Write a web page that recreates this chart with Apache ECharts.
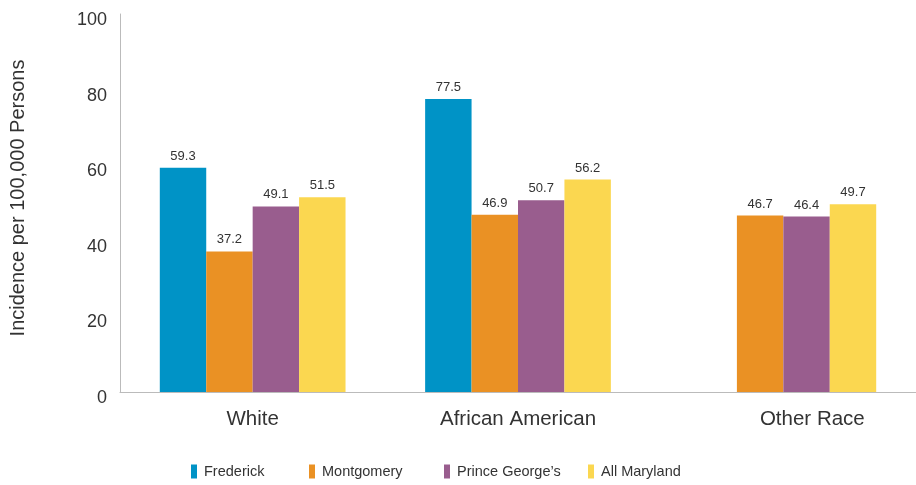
<!DOCTYPE html>
<html><head><meta charset="utf-8">
<script src="https://cdn.jsdelivr.net/npm/echarts@6/dist/echarts.min.js"></script>
<style>html,body{margin:0;padding:0;background:#fff}#c{width:916px;height:485px}</style>
</head><body><div id="c"></div>
<script>
const categories = ['White', 'African American', 'Other Race'];
const frederick = [59.3, 77.5, null];
const montgomery = [37.2, 46.9, 46.7];
const princeGeorges = [49.1, 50.7, 46.4];
const allMaryland = [51.5, 56.2, 49.7];
const seriesNames = ['Frederick', 'Montgomery', 'Prince George\u2019s', 'All Maryland'];
const colors = ['#0093c6', '#ea9124', '#995d8e', '#fbd750'];
const legendLeft = [186, 304, 439, 583];

const font = 'Liberation Sans, Arial, sans-serif';
const chart = echarts.init(document.getElementById('c'));
const vals = [frederick, montgomery, princeGeorges, allMaryland];
chart.setOption({
  animation: false,
  textStyle: { fontFamily: font },
  grid: { left: 120, top: 14, width: 802, bottom: 93, containLabel: false },
  legend: seriesNames.map((n, i) => ({
    data: [n], left: legendLeft[i], top: 459, itemWidth: 6, itemHeight: 14, icon: 'rect', itemGap: 0,
    textStyle: { fontSize: 14.5, color: '#333', fontFamily: font, padding: [0, 0, 0, 2] }
  })),
  xAxis: {
    type: 'category',
    data: categories.map((c, i) => i === 2 ? { value: c, textStyle: { padding: [0, 0, 0, 58] } } : c),
    axisLine: { lineStyle: { color: '#bbb', width: 1 } },
    axisTick: { show: false },
    axisLabel: { fontSize: 20.5, color: '#333', margin: 17, fontFamily: font }
  },
  yAxis: {
    type: 'value', min: 0, max: 100, interval: 20,
    name: 'Incidence per 100,000 Persons', nameLocation: 'middle', nameGap: 92,
    nameTextStyle: { fontSize: 20, color: '#333', fontFamily: font, padding: [0, 0, 0, 10] },
    axisLine: { show: true, lineStyle: { color: '#bbb', width: 1 } },
    axisTick: { show: false },
    splitLine: { show: false },
    axisLabel: { fontSize: 18, color: '#333', margin: 13, verticalAlign: 'top', lineHeight: 12, fontFamily: font }
  },
  series: vals.map((d, i) => ({
    name: seriesNames[i], type: 'bar', data: d,
    barGap: '0%', barCategoryGap: '30%',
    itemStyle: { color: colors[i] },
    label: { show: true, position: 'top', distance: 5, fontSize: 13, color: '#333', fontFamily: font }
  }))
});
</script></body></html>
